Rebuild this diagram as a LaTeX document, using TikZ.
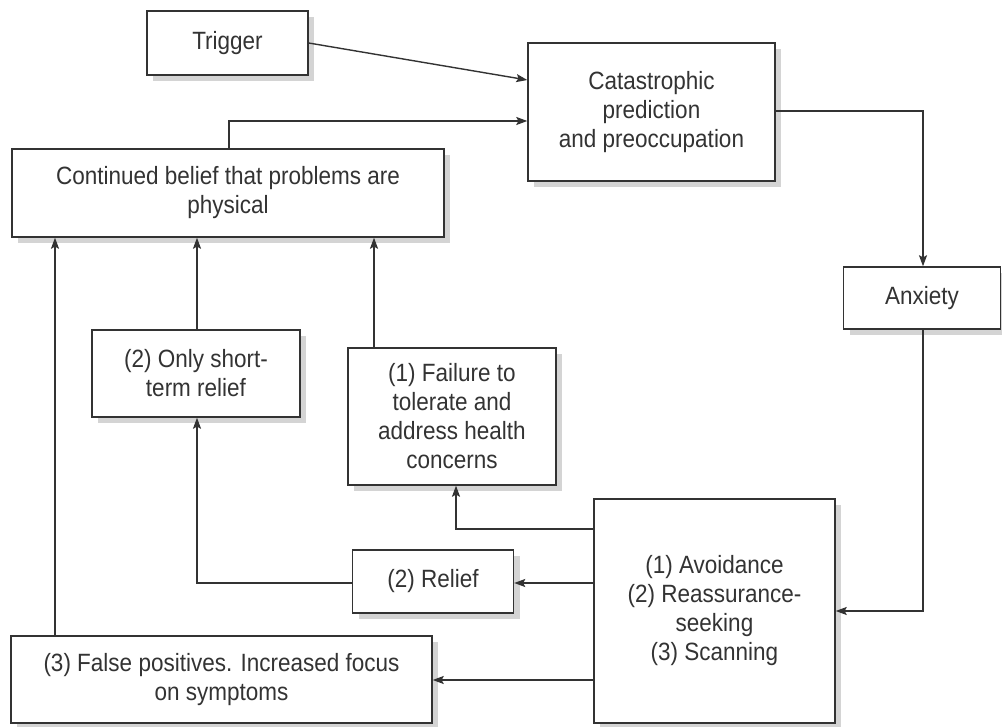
\documentclass[tikz,border=0pt]{standalone}
\usepackage{fontspec}
\setmainfont[FakeStretch=0.9]{Liberation Sans}
\usetikzlibrary{arrows.meta,shadows}
\definecolor{ink}{HTML}{333333}
\definecolor{shade}{HTML}{D4D4D4}
\begin{document}
\begin{tikzpicture}[x=1pt,y=-1pt,
  box/.style={draw=ink, line width=1.4pt, fill=white, align=center, text=ink,
    inner sep=0pt, font=\fontsize{25}{29}\selectfont,
    drop shadow={shadow xshift=6pt, shadow yshift=-6pt, fill=shade, opacity=1}},
  arr/.style={draw=ink, line width=1.4pt, -{Stealth[length=11pt,width=8pt,inset=2pt]}}]
\useasboundingbox (0,0) rectangle (1002,727);

% boxes
\node[box, minimum width=161pt, minimum height=64pt] (trig) at (227.5,43) {Trigger};
\node[box, minimum width=247pt, minimum height=138pt] (cat) at (651.5,112)
  {Catastrophic\\prediction\\and preoccupation};
\node[box, minimum width=432pt, minimum height=88pt] (cont) at (228,193)
  {Continued belief that problems are\\physical};
\node[box, minimum width=157pt, minimum height=62pt] (anx) at (922,298) {Anxiety};
\node[box, minimum width=208pt, minimum height=87pt] (short) at (196,373.5)
  {(2) Only short-\\term relief};
\node[box, minimum width=208pt, minimum height=137pt] (fail) at (452,416.5)
  {(1) Failure to\\tolerate and\\address health\\concerns};
\node[box, minimum width=241pt, minimum height=224pt] (avoid) at (714.5,611)
  {(1) Avoidance\\(2) Reassurance-\\seeking\\(3) Scanning};
\node[box, minimum width=161pt, minimum height=63pt] (relief) at (433,581.5) {(2) Relief};
\node[box, minimum width=421pt, minimum height=87pt] (fp) at (221.5,679.5)
  {(3) False positives. Increased focus\\on symptoms};

% routing points
\coordinate (c1) at (229,121);
\coordinate (c2) at (923,111);
\coordinate (c3) at (923,611);
\coordinate (c4) at (456,529);
\coordinate (c5) at (0,583);
\coordinate (c6) at (197,583);
\coordinate (c7) at (0,680);
\coordinate (c8) at (55,0);
\coordinate (c9) at (374,0);

% connectors
\draw[arr] (trig.east) -- ([yshift=32pt]cat.west);
\draw[arr] (cont.north -| c1) -- (c1) -- (cat.west |- c1);
\draw[arr] (cat.east |- c2) -- (c2) -- (anx.north -| c2);
\draw[arr] (anx.south -| c3) -- (c3) -- (avoid.east |- c3);
\draw[arr] (avoid.west |- c4) -- (c4) -- (fail.south -| c4);
\draw[arr] (avoid.west |- c5) -- (relief.east |- c5);
\draw[arr] (relief.west |- c6) -- (c6) -- (short.south -| c6);
\draw[arr] (avoid.west |- c7) -- (fp.east |- c7);
\draw[arr] (fp.north -| c8) -- (cont.south -| c8);
\draw[arr] (short.north -| c6) -- (cont.south -| c6);
\draw[arr] (fail.north -| c9) -- (cont.south -| c9);
\end{tikzpicture}
\end{document}
